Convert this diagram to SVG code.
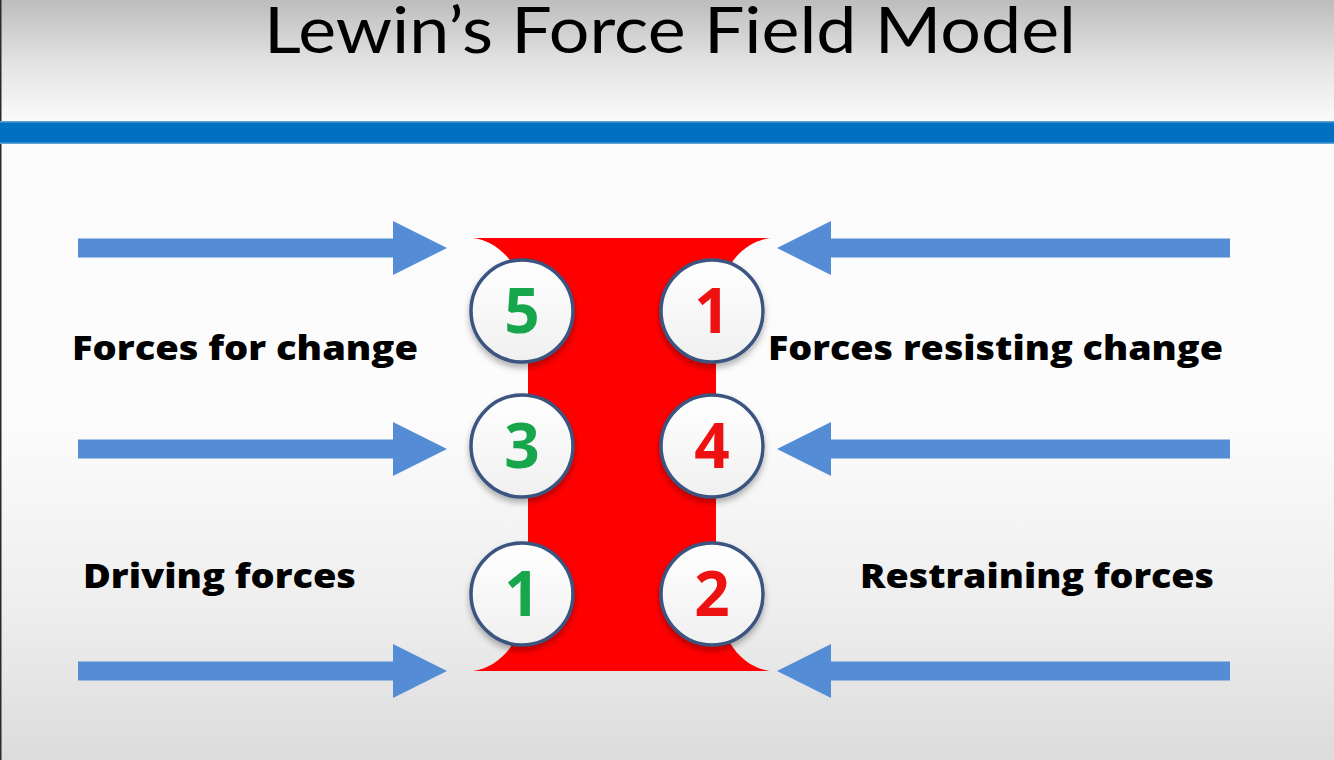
<svg xmlns="http://www.w3.org/2000/svg" width="1334" height="760" viewBox="0 0 1334 760">
  <defs>
    <linearGradient id="bg" x1="0" y1="0" x2="0" y2="1">
      <stop offset="0" stop-color="#bdbdbd"/>
      <stop offset="0.08" stop-color="#e2e2e2"/>
      <stop offset="0.16" stop-color="#fbfbfb"/>
      <stop offset="0.55" stop-color="#fcfcfc"/>
      <stop offset="0.8" stop-color="#eeeeee"/>
      <stop offset="1" stop-color="#dcdcdc"/>
    </linearGradient>
    <linearGradient id="circ" x1="0" y1="0" x2="0" y2="1">
      <stop offset="0" stop-color="#ffffff"/>
      <stop offset="1" stop-color="#f0f0f0"/>
    </linearGradient>
    <filter id="sh" x="-30%" y="-30%" width="160%" height="170%">
      <feDropShadow dx="0" dy="4" stdDeviation="3" flood-color="#000" flood-opacity="0.3"/>
    </filter>
    <path id="arrL" d="M0,-9.5 L315,-9.5 L315,-27 L369,0 L315,27 L315,9.5 L0,9.5 Z"/>
    <path id="arrRt" d="M0,-9.5 L399,-9.5 L399,-27 L453,0 L399,27 L399,9.5 L0,9.5 Z"/>
  </defs>
  <style>
    .arrow { fill: #558cd6; }
    .node circle { fill: url(#circ); stroke: #3a5580; stroke-width: 3.5; filter: url(#sh); }
    .num { font-family: "Open Sans", "Noto Sans", sans-serif; font-weight: 700; font-size: 62px; text-anchor: middle; }
    .g { fill: #17a64b; }
    .r { fill: #ee1111; }
    .lbl { font-family: "Open Sans", "Noto Sans", sans-serif; font-weight: 800; font-size: 33px; fill: #000; }
  </style>

  <rect x="0" y="0" width="1334" height="760" fill="url(#bg)"/>
  <line x1="0.75" y1="0" x2="0.75" y2="760" stroke="#2a2a2a" stroke-width="1.5"/>

  <text id="title" x="670" y="53" text-anchor="middle" font-family="Lato, 'Open Sans', sans-serif" font-size="64" fill="#000" textLength="812" lengthAdjust="spacingAndGlyphs">Lewin’s Force Field Model</text>

  <rect x="0" y="121" width="1334" height="23" fill="#0070c0"/>
  <rect x="0" y="121" width="1334" height="1.5" fill="#5fa0d8"/>
  <rect x="0" y="142.5" width="1334" height="1.5" fill="#5fa0d8"/>

  <g id="barrier">
    <path d="M473,238 L770,238 C740,242 716,272 716,320 L716,585 C716,636 740,667 770,671 L473,671 C503,667 528,636 528,585 L528,320 C528,272 503,242 473,238 Z" fill="#ff0000"/>
  </g>

  <g id="connectors">
    <use href="#arrL" class="arrow" transform="translate(78,248)"/>
    <use href="#arrL" class="arrow" transform="translate(78,449)"/>
    <use href="#arrL" class="arrow" transform="translate(78,671)"/>
    <use href="#arrRt" class="arrow" transform="translate(1230,248) scale(-1,1)"/>
    <use href="#arrRt" class="arrow" transform="translate(1230,449) scale(-1,1)"/>
    <use href="#arrRt" class="arrow" transform="translate(1230,671) scale(-1,1)"/>
  </g>

  <g id="node-l5" class="node">
    <circle cx="522" cy="311" r="51"/>
    <text class="num g" x="522" y="333">5</text>
  </g>
  <g id="node-l3" class="node">
    <circle cx="522" cy="446" r="51"/>
    <text class="num g" x="522" y="468">3</text>
  </g>
  <g id="node-l1" class="node">
    <circle cx="522" cy="594" r="51"/>
    <text class="num g" x="522" y="616">1</text>
  </g>
  <g id="node-r1" class="node">
    <circle cx="712" cy="311" r="51"/>
    <text class="num r" x="712" y="333">1</text>
  </g>
  <g id="node-r4" class="node">
    <circle cx="712" cy="446" r="51"/>
    <text class="num r" x="712" y="468">4</text>
  </g>
  <g id="node-r2" class="node">
    <circle cx="712" cy="594" r="51"/>
    <text class="num r" x="712" y="616">2</text>
  </g>

  <g id="labels">
    <text class="lbl" x="72" y="360" textLength="346" lengthAdjust="spacingAndGlyphs">Forces for change</text>
    <text class="lbl" x="768" y="360" textLength="455" lengthAdjust="spacingAndGlyphs">Forces resisting change</text>
    <text class="lbl" x="83" y="588" textLength="273" lengthAdjust="spacingAndGlyphs">Driving forces</text>
    <text class="lbl" x="860" y="588" textLength="354" lengthAdjust="spacingAndGlyphs">Restraining forces</text>
  </g>
</svg>
